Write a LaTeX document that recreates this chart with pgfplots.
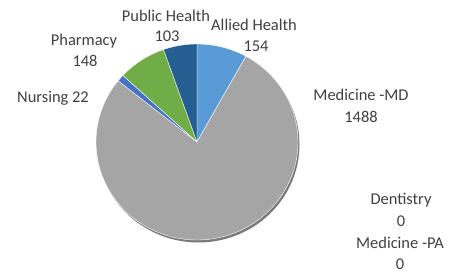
\documentclass[border=0pt]{standalone}
\usepackage{pgfplots}
\pgfplotsset{compat=1.18}
\usepackage{fontspec}
\setmainfont{Carlito}
\definecolor{cAllied}{HTML}{5B9BD5}
\definecolor{cMD}{HTML}{A5A5A5}
\definecolor{cNurs}{HTML}{4472C4}
\definecolor{cPharm}{HTML}{70AD47}
\definecolor{cPH}{HTML}{255E91}
\definecolor{txt}{HTML}{404040}
% data
\def\vAllied{154}
\def\vMD{1488}
\def\vDent{0}
\def\vPA{0}
\def\vNurs{22}
\def\vPharm{148}
\def\vPH{103}
\tikzset{lbl/.style={font=\fontsize{16.5}{20}\selectfont, text=txt, anchor=base, inner sep=0pt}}
\begin{document}
\begin{tikzpicture}
\pgfmathsetmacro{\tot}{\vAllied+\vMD+\vDent+\vPA+\vNurs+\vPharm+\vPH}
\pgfmathsetmacro{\aA}{90}
\pgfmathsetmacro{\aB}{\aA-360*(\vAllied/\tot)}
\pgfmathsetmacro{\aC}{\aB-360*(\vMD/\tot)}
\pgfmathsetmacro{\aD}{\aC-360*((\vDent+\vPA)/\tot)}
\pgfmathsetmacro{\aE}{\aD-360*(\vNurs/\tot)}
\pgfmathsetmacro{\aF}{\aE-360*(\vPharm/\tot)}
\pgfmathsetmacro{\aG}{\aF-360*(\vPH/\tot)}
\begin{axis}[
  width=452bp, height=272bp, scale only axis,
  xmin=0, xmax=452, ymin=0, ymax=272,
  hide axis, clip=false,
]
\coordinate (ll) at (axis cs:0,0);
\coordinate (ur) at (axis cs:452,272);
% shadow
\addplot[fill=black!65, draw=none, domain=0:360, samples=120, variable=\t, opacity=0.8]
  ({198.5+101*cos(\t)},{127.5+98*sin(\t)}) -- cycle;
\addplot[fill=cAllied, draw=white, line width=0.4pt, domain=\aB:\aA, samples=30, variable=\t]
  ({197+101*cos(\t)},{130+98*sin(\t)}) -- (axis cs:197,130) -- cycle;
\addplot[fill=cMD, draw=white, line width=0.4pt, domain=\aC:\aB, samples=120, variable=\t]
  ({197+101*cos(\t)},{130+98*sin(\t)}) -- (axis cs:197,130) -- cycle;
\addplot[fill=cNurs, draw=white, line width=0.4pt, domain=\aE:\aD, samples=6, variable=\t]
  ({197+101*cos(\t)},{130+98*sin(\t)}) -- (axis cs:197,130) -- cycle;
\addplot[fill=cPharm, draw=white, line width=0.4pt, domain=\aF:\aE, samples=30, variable=\t]
  ({197+101*cos(\t)},{130+98*sin(\t)}) -- (axis cs:197,130) -- cycle;
\addplot[fill=cPH, draw=white, line width=0.4pt, domain=\aG:\aF, samples=20, variable=\t]
  ({197+101*cos(\t)},{130+98*sin(\t)}) -- (axis cs:197,130) -- cycle;
% labels
\node[lbl] at (axis cs:166,250) {Public Health};
\node[lbl] at (axis cs:167,230) {\vPH};
\node[lbl] at (axis cs:254,241) {Allied Health};
\node[lbl] at (axis cs:256,220) {\vAllied};
\node[lbl] at (axis cs:84,226) {Pharmacy};
\node[lbl] at (axis cs:85,205) {\vPharm};
\node[lbl] at (axis cs:53,169) {Nursing \vNurs};
\node[lbl] at (axis cs:361,171) {Medicine -MD};
\node[lbl] at (axis cs:361,149) {\vMD};
\node[lbl] at (axis cs:401,67) {Dentistry};
\node[lbl] at (axis cs:401,45) {\vDent};
\node[lbl] at (axis cs:400,24) {Medicine -PA};
\node[lbl] at (axis cs:400,3) {\vPA};
\end{axis}
\pgfresetboundingbox
\path[use as bounding box] (ll) rectangle (ur);
\end{tikzpicture}
\end{document}
